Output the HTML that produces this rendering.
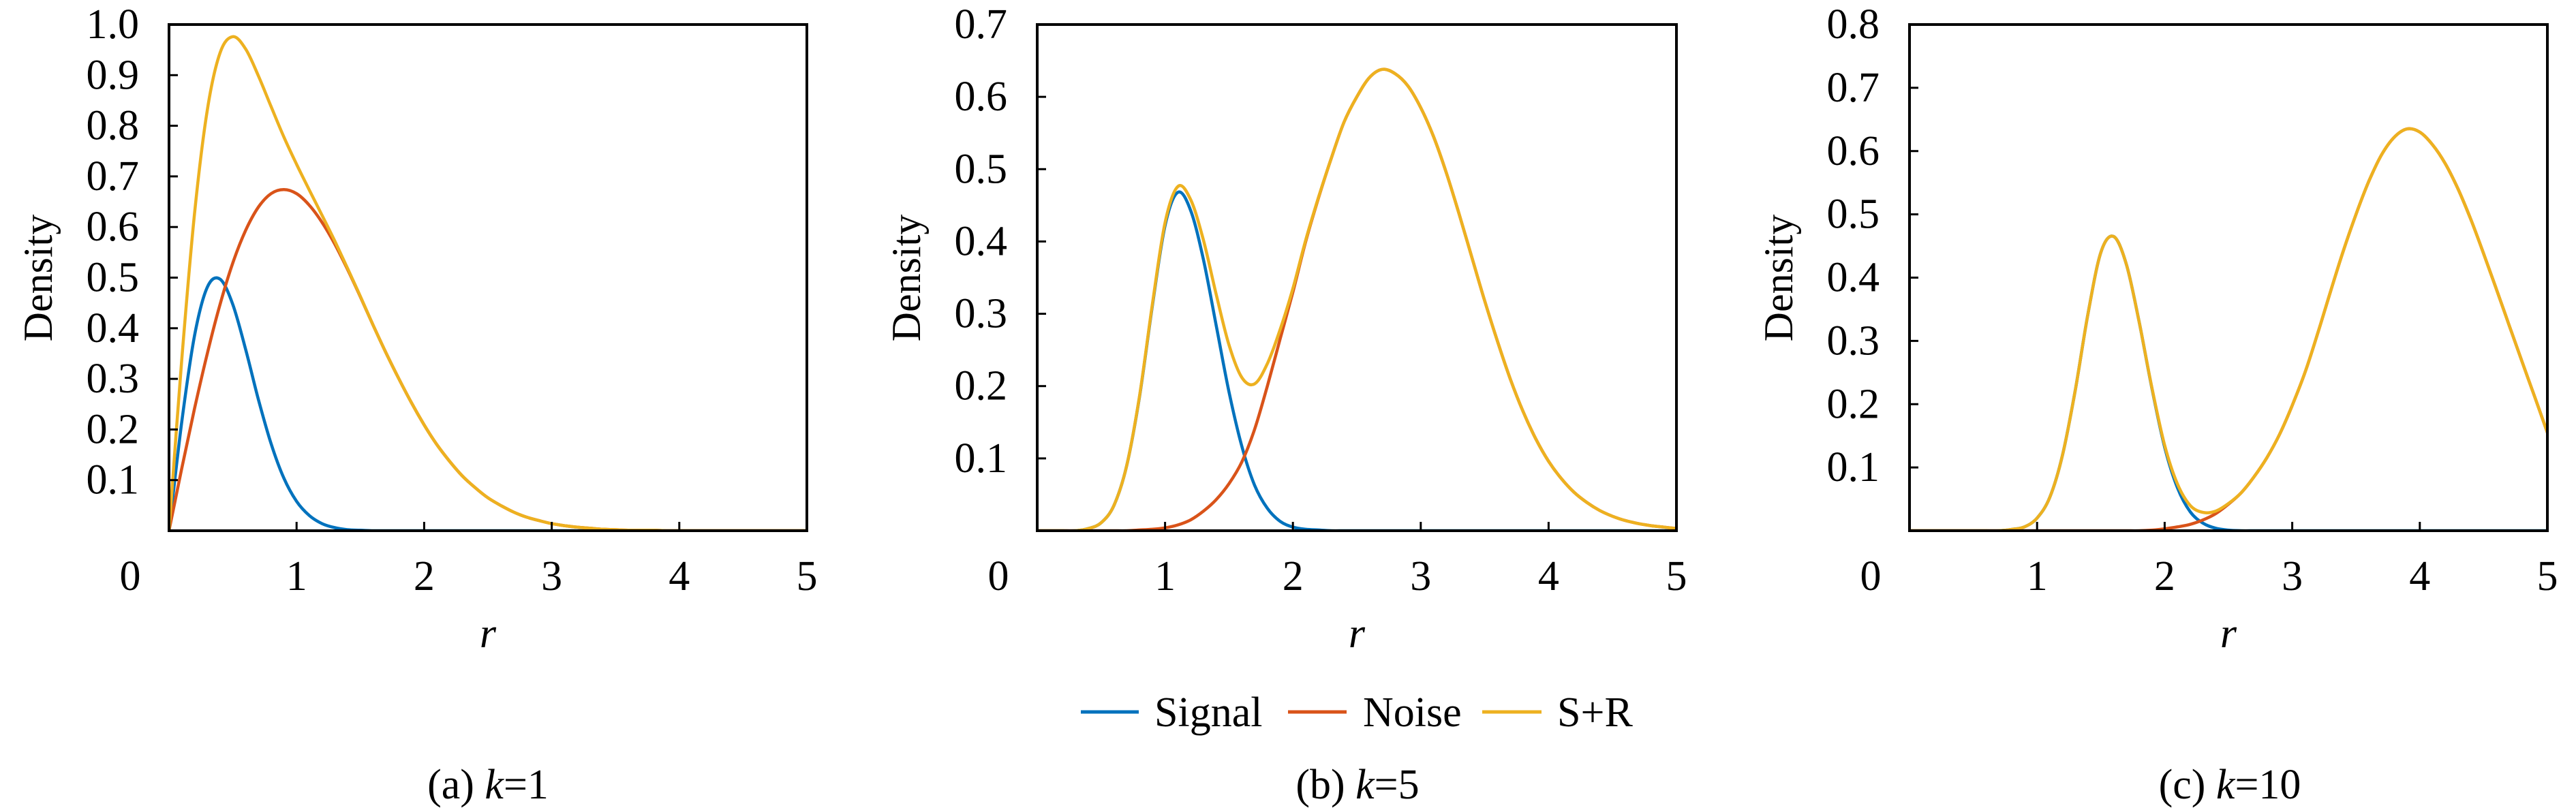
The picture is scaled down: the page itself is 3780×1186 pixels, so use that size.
<!DOCTYPE html>
<html><head><meta charset="utf-8"><style>
html,body{margin:0;padding:0;background:#fff}
svg{display:block}
svg, text{font-family:"Liberation Serif","DejaVu Serif",serif;fill:#000}
</style></head><body>
<svg id="fig" width="3780" height="1186" viewBox="0 0 3780 1186" xmlns="http://www.w3.org/2000/svg" font-family="Liberation Serif, DejaVu Serif, serif">
<g id="legend">
  <g>
    <line x1="1586" y1="1045" x2="1671" y2="1045" stroke="#0072BD" stroke-width="5"/>
    <text x="1694" y="1066" font-size="62" font-family="Liberation Serif, DejaVu Serif, serif">Signal</text>
  </g>
  <g>
    <line x1="1890" y1="1045" x2="1976" y2="1045" stroke="#D95319" stroke-width="5"/>
    <text x="2000" y="1066" font-size="62" font-family="Liberation Serif, DejaVu Serif, serif">Noise</text>
  </g>
  <g>
    <line x1="2175" y1="1045" x2="2262" y2="1045" stroke="#EDB120" stroke-width="5"/>
    <text x="2285" y="1066" font-size="62" font-family="Liberation Serif, DejaVu Serif, serif">S+R</text>
  </g>
</g>
</svg>
<script>
const rGrid = [];
for (let i = 0; i <= 50; i++) rGrid.push(i / 10);

const signal1 = [0,0.215,0.385,0.481,0.497,0.447,0.359,0.260,0.172,0.104,0.058,0.030,0.014,0.006,0.002,0.001,0,0,0,0,0,0,0,0,0,0,0,0,0,0,0,0,0,0,0,0,0,0,0,0,0,0,0,0,0,0,0,0,0,0,0];
const noise1 = [0,0.123,0.241,0.350,0.447,0.529,0.593,0.639,0.666,0.674,0.666,0.643,0.609,0.566,0.516,0.462,0.406,0.352,0.301,0.253,0.209,0.170,0.137,0.108,0.085,0.065,0.050,0.037,0.027,0.020,0.014,0.010,0.007,0.005,0.003,0.002,0.001,0.001,0.001,0,0,0,0,0,0,0,0,0,0,0,0];
const sum1 = [0,0.338,0.626,0.831,0.944,0.976,0.952,0.899,0.838,0.778,0.724,0.673,0.623,0.572,0.518,0.463,0.406,0.352,0.301,0.253,0.209,0.170,0.137,0.108,0.085,0.065,0.050,0.037,0.027,0.020,0.014,0.010,0.007,0.005,0.003,0.002,0.001,0.001,0.001,0,0,0,0,0,0,0,0,0,0,0,0];

const signal2 = [0,0,0,0,0.003,0.011,0.035,0.090,0.185,0.310,0.422,0.468,0.443,0.375,0.284,0.192,0.117,0.063,0.031,0.013,0.005,0.002,0.001,0,0,0,0,0,0,0,0,0,0,0,0,0,0,0,0,0,0,0,0,0,0,0,0,0,0,0,0];
const noise2 = [0,0,0,0,0,0,0,0,0.001,0.002,0.004,0.008,0.015,0.027,0.043,0.065,0.095,0.140,0.200,0.265,0.330,0.400,0.460,0.515,0.565,0.600,0.627,0.638,0.632,0.615,0.585,0.545,0.495,0.438,0.378,0.318,0.262,0.210,0.165,0.127,0.096,0.072,0.053,0.039,0.028,0.020,0.014,0.010,0.007,0.005,0.003];
const sum2 = [0,0,0,0,0.003,0.011,0.035,0.090,0.186,0.312,0.426,0.476,0.458,0.402,0.327,0.257,0.212,0.203,0.231,0.278,0.335,0.402,0.461,0.515,0.565,0.600,0.627,0.638,0.632,0.615,0.585,0.545,0.495,0.438,0.378,0.318,0.262,0.210,0.165,0.127,0.096,0.072,0.053,0.039,0.028,0.020,0.014,0.010,0.007,0.005,0.003];

const signal3 = [0,0,0,0,0,0,0,0,0.002,0.006,0.020,0.053,0.120,0.223,0.344,0.440,0.465,0.421,0.330,0.225,0.132,0.068,0.030,0.012,0.004,0.001,0,0,0,0,0,0,0,0,0,0,0,0,0,0,0,0,0,0,0,0,0,0,0,0,0];
const noise3 = [0,0,0,0,0,0,0,0,0,0,0,0,0,0,0,0,0,0,0,0.001,0.003,0.006,0.010,0.017,0.027,0.042,0.060,0.085,0.115,0.152,0.198,0.250,0.312,0.378,0.442,0.500,0.552,0.594,0.622,0.635,0.630,0.610,0.580,0.540,0.492,0.438,0.382,0.325,0.268,0.212,0.155];
const sum3 = [0,0,0,0,0,0,0,0,0.002,0.006,0.020,0.053,0.120,0.223,0.344,0.440,0.465,0.421,0.330,0.226,0.135,0.074,0.040,0.029,0.031,0.043,0.060,0.085,0.115,0.152,0.198,0.250,0.312,0.378,0.442,0.500,0.552,0.594,0.622,0.635,0.630,0.610,0.580,0.540,0.492,0.438,0.382,0.325,0.268,0.212,0.155];

const xTicks = [0,1,2,3,4,5];
const yTicks1 = [0.1,0.2,0.3,0.4,0.5,0.6,0.7,0.8,0.9,1.0];
const yTicks2 = [0.1,0.2,0.3,0.4,0.5,0.6,0.7];
const yTicks3 = [0.1,0.2,0.3,0.4,0.5,0.6,0.7,0.8];

const NS = "http://www.w3.org/2000/svg";
const FONT = "Liberation Serif, DejaVu Serif, serif";
const figSvg = document.getElementById('fig');
function mk(tag, attrs, parent) {
  const e = document.createElementNS(NS, tag);
  for (const k in attrs) e.setAttribute(k, attrs[k]);
  parent.appendChild(e);
  return e;
}
function smoothPath(pts) {
  let d = "M" + pts[0][0].toFixed(1) + "," + pts[0][1].toFixed(1);
  for (let i = 0; i < pts.length - 1; i++) {
    const p0 = pts[Math.max(i - 1, 0)], p1 = pts[i], p2 = pts[i + 1], p3 = pts[Math.min(i + 2, pts.length - 1)];
    const c1x = p1[0] + (p2[0] - p0[0]) / 6, c1y = p1[1] + (p2[1] - p0[1]) / 6;
    const c2x = p2[0] - (p3[0] - p1[0]) / 6, c2y = p2[1] - (p3[1] - p1[1]) / 6;
    d += " C" + c1x.toFixed(1) + "," + c1y.toFixed(1) + " " + c2x.toFixed(1) + "," + c2y.toFixed(1) + " " + p2[0].toFixed(1) + "," + p2[1].toFixed(1);
  }
  return d;
}

const panels = [
  {id:'a', left:248, right:1184, ymax:1.0, yt:yTicks1, s:signal1, n:noise1, t:sum1, cap:'(a) ', k:'1', capX:716},
  {id:'b', left:1522, right:2460, ymax:0.7, yt:yTicks2, s:signal2, n:noise2, t:sum2, cap:'(b) ', k:'5', capX:1992},
  {id:'c', left:2802, right:3738, ymax:0.8, yt:yTicks3, s:signal3, n:noise3, t:sum3, cap:'(c) ', k:'10', capX:3272}
];
const plotTop = 36, plotBottom = 779;

panels.forEach(p => {
  const g = mk('g', {'font-family': FONT}, figSvg);
  
  
  const xs = v => p.left + (v / 5) * (p.right - p.left);
  const ys = v => plotBottom - (v / p.ymax) * (plotBottom - plotTop);
  const clipId = 'clip' + p.id;
  const cp = mk('clipPath', {id: clipId}, g);
  mk('rect', {x:p.left, y:plotTop, width:p.right - p.left, height:plotBottom - plotTop}, cp);

  const series = [[p.s,'#0072BD','signal'],[p.n,'#D95319','noise'],[p.t,'#EDB120','s-plus-r']];
  series.forEach(([arr, col, nm]) => {
    const pts = rGrid.map((r, i) => [xs(r), ys(arr[i])]);
    const path = mk('path', {d: smoothPath(pts), fill:'none', stroke:col, 'stroke-width':4.5, 'stroke-linejoin':'round', 'clip-path':'url(#' + clipId + ')'}, g);
    
    
  });

  const box = mk('rect', {x:p.left, y:plotTop, width:p.right - p.left, height:plotBottom - plotTop, fill:'none', stroke:'#000', 'stroke-width':4}, g);
  
  

  p.yt.forEach(v => {
    const y = ys(v);
    if (v < p.ymax - 1e-9) mk('line', {x1:p.left, y1:y, x2:p.left + 13, y2:y, stroke:'#000', 'stroke-width':3}, g);
    const t = mk('text', {x:p.left - 44, y:y + 20, 'font-size':62, 'text-anchor':'end', 'font-family':FONT}, g);
    t.textContent = v.toFixed(1);
    
    
  });
  xTicks.forEach(v => {
    const x = xs(v);
    if (v > 0 && v < 5) mk('line', {x1:x, y1:plotBottom, x2:x, y2:plotBottom - 13, stroke:'#000', 'stroke-width':3}, g);
    const t = mk('text', {x: v === 0 ? x - 57 : x, y:866, 'font-size':62, 'text-anchor':'middle', 'font-family':FONT}, g);
    t.textContent = String(v);
    
    
  });
  const xl = mk('text', {x:(p.left + p.right) / 2, y:950, 'font-size':62, 'font-style':'italic', 'text-anchor':'middle', 'font-family':FONT}, g);
  xl.textContent = 'r';
  
  
  const yl = mk('text', {x:0, y:0, 'font-size':60, 'text-anchor':'middle', 'font-family':FONT, transform:'translate(' + (p.left - 172) + ',408) rotate(-90)'}, g);
  yl.textContent = 'Density';
  
  
  const cap = mk('text', {x:p.capX, y:1172, 'font-size':62, 'text-anchor':'middle', 'font-family':FONT}, g);
  
  
  cap.appendChild(document.createTextNode(p.cap));
  const ts = mk('tspan', {'font-style':'italic'}, cap);
  ts.textContent = 'k';
  cap.appendChild(document.createTextNode('=' + p.k));
});
</script>
</body></html>
